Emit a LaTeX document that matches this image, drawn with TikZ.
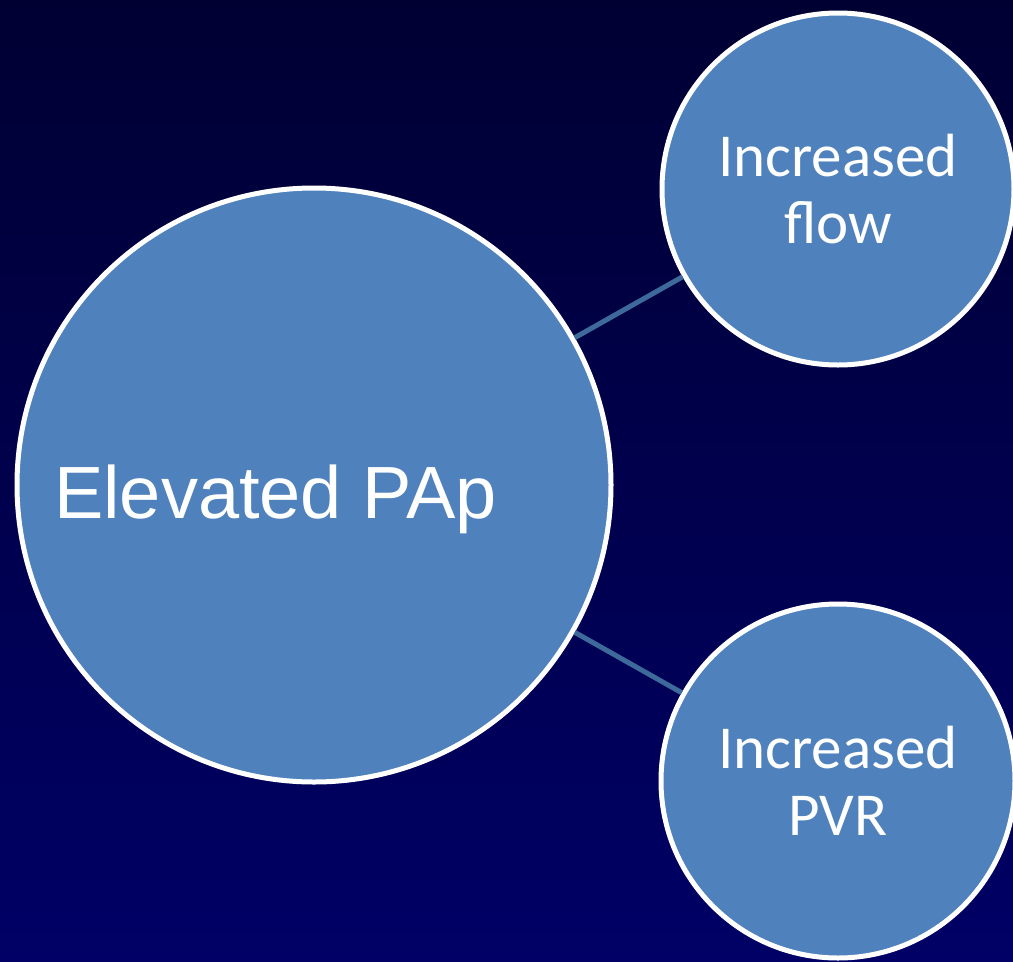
\documentclass[tikz,border=0pt]{standalone}
\usepackage{fontspec}
\setmainfont{Carlito}
\newfontfamily\arialfont{Liberation Sans}
\definecolor{bgtop}{RGB}{0,0,51}
\definecolor{bgbottom}{RGB}{0,0,102}
\definecolor{bubbleblue}{RGB}{79,129,189}
\definecolor{linkblue}{RGB}{61,106,155}
\tikzstyle{bubble}=[circle,draw=white,fill=bubbleblue,line width=5pt,inner sep=0pt,text=white,align=center,font=\fontsize{61}{67}\selectfont]
\tikzstyle{link}=[draw=linkblue,line width=5pt]

\begin{document}
\begin{tikzpicture}[x=1pt, y=-1pt]
    % slide background
    \shade[top color=bgtop, bottom color=bgbottom] (0,0) rectangle (1013,962);
    \useasboundingbox (0,0) rectangle (1013,962);
    % the three bubbles
    \node[bubble, minimum size=594pt] (pap) at (314,485) {};
    \node[bubble, minimum size=352pt] (flow) at (838,189) {Increased\\flow};
    \node[bubble, minimum size=354pt] (pvr) at (838,781) {Increased\\PVR};
    \node[text=white, inner sep=0pt, anchor=base west, font=\arialfont\fontsize{74}{80}\selectfont] (papText) at (54,518) {Elevated PAp};
    % connectors
    \draw[link] (pap) -- (flow);
    \draw[link] (pap) -- (pvr);
\end{tikzpicture}
\end{document}
